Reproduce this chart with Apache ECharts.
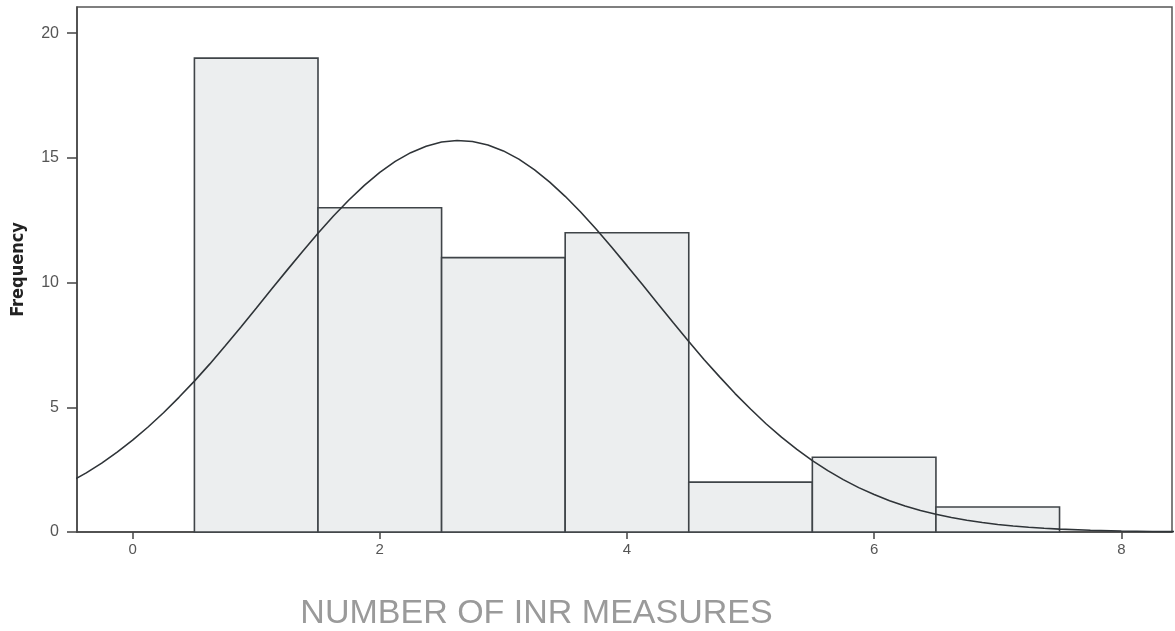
<!DOCTYPE html>
<html><head><meta charset="utf-8">
<script src="https://cdn.jsdelivr.net/npm/echarts@6/dist/echarts.min.js"></script>
<style>html,body{margin:0;padding:0;background:#fff}#c{width:1175px;height:631px}</style>
</head><body><div id="c"></div>
<script>
// Histogram bins (centre of bin, width 1)
const binCenters = [1, 2, 3, 4, 5, 6, 7];
const frequencies = [19, 13, 11, 12, 2, 3, 1];
// Fitted normal curve
const curveX = [-0.5,-0.375,-0.25,-0.125,0,0.125,0.25,0.375,0.5,0.625,0.75,0.875,1,1.125,1.25,1.375,1.5,1.625,1.75,1.875,2,2.125,2.25,2.375,2.5,2.625,2.75,2.875,3,3.125,3.25,3.375,3.5,3.625,3.75,3.875,4,4.125,4.25,4.375,4.5,4.625,4.75,4.875,5,5.125,5.25,5.375,5.5,5.625,5.75,5.875,6,6.125,6.25,6.375,6.5,6.625,6.75,6.875,7,7.125,7.25,7.375,7.5,7.75,8,8.25,8.5];
const curveY = [2.02,2.37,2.76,3.20,3.68,4.21,4.78,5.40,6.05,6.74,7.47,8.21,8.97,9.74,10.50,11.25,11.98,12.67,13.31,13.90,14.42,14.86,15.21,15.47,15.64,15.70,15.66,15.52,15.28,14.95,14.53,14.03,13.46,12.83,12.15,11.43,10.68,9.92,9.15,8.39,7.64,6.91,6.22,5.55,4.93,4.34,3.80,3.31,2.86,2.46,2.10,1.78,1.50,1.25,1.04,0.86,0.71,0.58,0.47,0.38,0.30,0.24,0.19,0.15,0.115,0.068,0.04,0.022,0.012];
const xTicks = [0, 2, 4, 6, 8];
const yTicks = [0, 5, 10, 15, 20];

const chart = echarts.init(document.getElementById('c'));
const binData = binCenters.map((c, i) => [c, frequencies[i]]);
const curveData = curveX.map((x, i) => [x, curveY[i]]);

chart.setOption({
  animation: false,
  backgroundColor: '#ffffff',
  grid: { left: 77, right: 3, top: 7, bottom: 99, show: true, borderColor: '#555', borderWidth: 1.5,
          backgroundColor: 'transparent', outerBoundsMode: 'none', containLabel: false },
  xAxis: {
    type: 'value', min: -0.45, max: 8.41,
    axisLine: { show: true, onZero: false, lineStyle: { color: '#444', width: 1.5 } },
    axisTick: { show: true, length: 7, lineStyle: { color: '#444', width: 1.5 }, customValues: xTicks },
    axisLabel: { color: '#555', fontSize: 15, fontFamily: 'Liberation Sans, Arial', margin: 10, customValues: xTicks },
    splitLine: { show: false },
    name: 'NUMBER OF INR MEASURES', nameLocation: 'middle', nameGap: 65,
    nameTextStyle: { color: '#9a9a9a', fontSize: 34, fontFamily: 'Liberation Sans, Arial', fontWeight: 'normal',
                     padding: [0, 176, 0, 0] }
  },
  yAxis: {
    type: 'value', min: 0, max: 21.05,
    axisLine: { show: true, onZero: false, lineStyle: { color: '#444', width: 1.5 } },
    axisTick: { show: true, length: 10, lineStyle: { color: '#444', width: 1.5 }, customValues: yTicks },
    axisLabel: { color: '#555', fontSize: 16, fontFamily: 'Liberation Sans, Arial', margin: 18, customValues: yTicks },
    splitLine: { show: false },
    name: 'Frequency', nameLocation: 'middle', nameGap: 50, nameRotate: 90,
    nameTextStyle: { color: '#222', fontSize: 18, fontFamily: 'DejaVu Sans Condensed, Liberation Sans', fontWeight: 'bold' }
  },
  series: [
    {
      type: 'custom',
      data: binData,
      z: 2,
      renderItem: function (params, api) {
        const c = api.value(0), v = api.value(1);
        const p0 = api.coord([c - 0.5, v]);
        const p1 = api.coord([c + 0.5, 0]);
        return {
          type: 'rect',
          shape: { x: p0[0], y: p0[1], width: p1[0] - p0[0], height: p1[1] - p0[1] },
          style: { fill: '#eceeef', stroke: '#3f4448', lineWidth: 1.6 }
        };
      }
    },
    {
      type: 'line',
      data: curveData,
      smooth: false,
      showSymbol: false,
      z: 3,
      clip: true,
      lineStyle: { color: '#2f3438', width: 1.6 }
    }
  ]
});
</script>
</body></html>
